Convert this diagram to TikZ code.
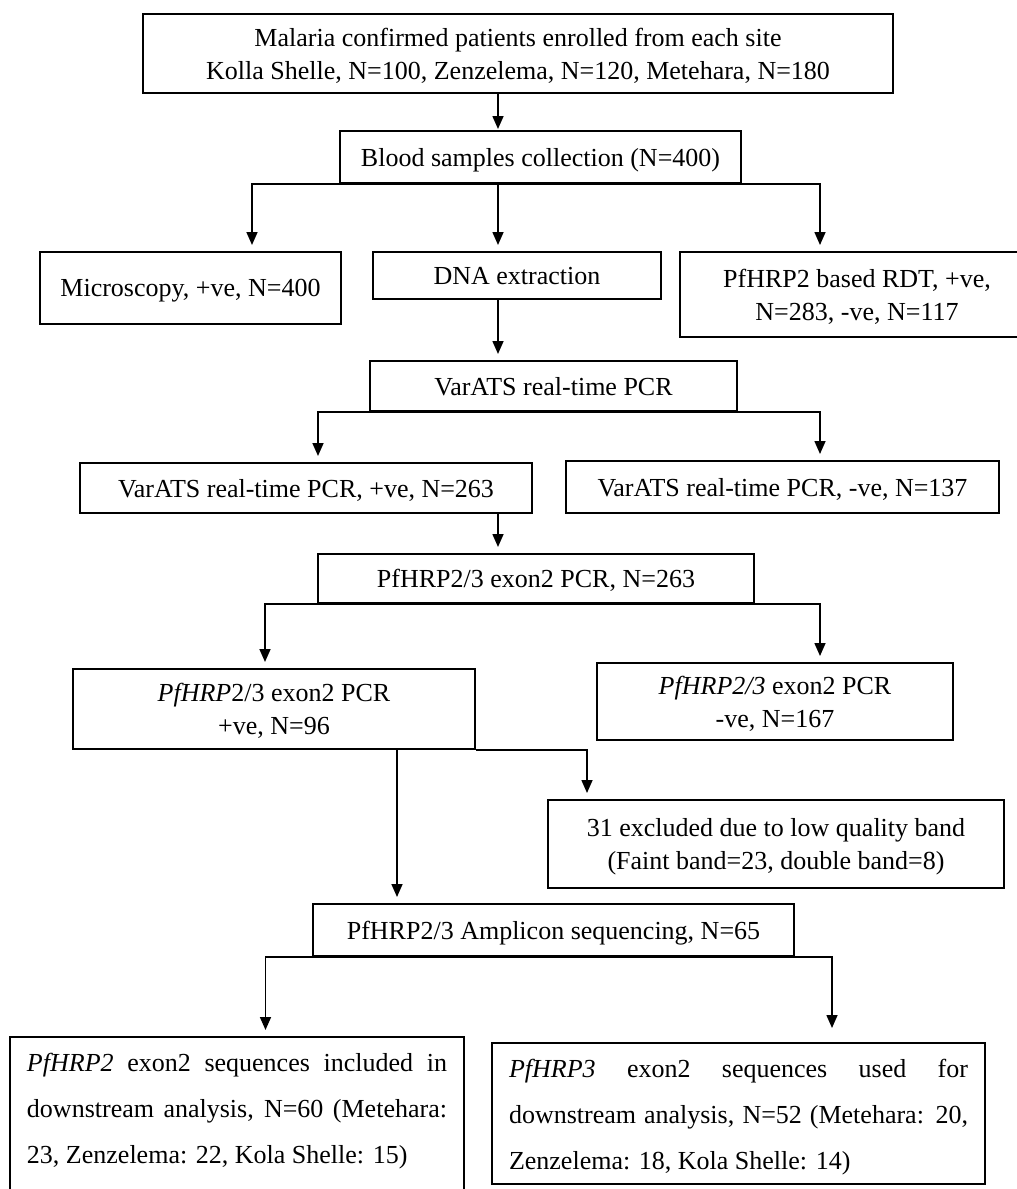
\documentclass[tikz,border=0pt]{standalone}
\usepackage{fontspec}
\setmainfont{Liberation Serif}
\usetikzlibrary{arrows.meta}
\begin{document}
\begin{tikzpicture}[x=1pt,y=-1pt,
    box/.style={draw,line width=2pt,inner sep=0pt,align=center,text depth=0pt,font=\fontsize{26}{33}\selectfont},
    longbox/.style={draw,line width=2pt,anchor=north west,align=justify,inner ysep=0pt,inner xsep=17pt,font=\fontsize{26}{46}\selectfont},
    arr/.style={line width=1.6pt,-{Triangle[length=13pt,width=11pt]},shorten >=6pt}]
    \useasboundingbox (0,0) rectangle (1017,1189);
    \coordinate (spine) at (498,0);

    \node[box,minimum width=750pt,minimum height=79pt] (enrol) at (518,53.5) {Malaria confirmed patients enrolled from each site\\Kolla Shelle, N=100, Zenzelema, N=120, Metehara, N=180};
    \node[box,minimum width=401pt,minimum height=52pt] (blood) at (540.5,157) {Blood samples collection (N=400)};
    \node[box,minimum width=301pt,minimum height=72pt] (micro) at (190.5,288) {Microscopy, +ve, N=400};
    \node[box,minimum width=288pt,minimum height=47pt] (dna) at (517,275.5) {DNA extraction};
    \node[box,minimum width=354pt,minimum height=85pt] (rdt) at (857,294.5) {PfHRP2 based RDT, +ve,\\N=283, -ve, N=117};
    \node[box,minimum width=367pt,minimum height=50pt] (var) at (553.5,386) {VarATS real-time PCR};
    \node[box,minimum width=452pt,minimum height=50pt] (varpos) at (306,488) {VarATS real-time PCR, +ve, N=263};
    \node[box,minimum width=433pt,minimum height=52pt] (varneg) at (782.5,487) {VarATS real-time PCR, -ve, N=137};
    \node[box,minimum width=436pt,minimum height=49pt] (exon) at (536,578.5) {PfHRP2/3 exon2 PCR, N=263};
    \node[box,minimum width=402pt,minimum height=80pt] (exonpos) at (274,709) {\textit{PfHRP}2/3 exon2 PCR\\+ve, N=96};
    \node[box,minimum width=356pt,minimum height=77pt] (exonneg) at (775,701.5) {\textit{PfHRP2/3} exon2 PCR\\-ve, N=167};
    \node[box,minimum width=456pt,minimum height=88pt] (excl) at (776,844) {31 excluded due to low quality band\\(Faint band=23, double band=8)};
    \node[box,minimum width=481pt,minimum height=52pt] (ampl) at (553.5,930) {PfHRP2/3 Amplicon sequencing, N=65};
    \node[longbox,text width=420pt,minimum height=170pt,text depth=118.5pt] (seq2) at (9,1036) {\textit{PfHRP2} exon2 sequences included in\linebreak downstream analysis, N=60 (Metehara:\linebreak 23, Zenzelema: 22, Kola Shelle: 15)};
    \node[longbox,text width=459pt,minimum height=141pt,text depth=89.5pt] (seq3) at (491,1042) {\textit{PfHRP3} exon2 sequences used for\linebreak downstream analysis, N=52 (Metehara: 20,\linebreak Zenzelema: 18, Kola Shelle: 14)};

    % flow
    \draw[arr,shorten >=1pt] (enrol.south -| spine) -- (blood.north -| spine);
    \draw[arr] (blood.south) -| ([xshift=61.5pt]micro.north);
    \draw[arr] (blood.south -| spine) -- (dna.north -| spine);
    \draw[arr] (blood.south) -| ([xshift=-37pt]rdt.north);
    \draw[arr] (dna.south -| spine) -- (var.north -| spine);
    \draw[arr] (var.south) -| ([xshift=12pt]varpos.north);
    \draw[arr] (var.south) -| ([xshift=37.5pt]varneg.north);
    \draw[arr] (varpos.south -| spine) -- (exon.north -| spine);
    \draw[arr] (exon.south) -| ([xshift=-9pt]exonpos.north);
    \draw[arr] (exon.south) -| ([xshift=45pt]exonneg.north);
    \coordinate (drop) at ([xshift=123pt]exonpos.south);
    \draw[arr] (drop) -- (drop |- ampl.north);
    \draw[arr] (exonpos.south east) -| ([xshift=-189pt]excl.north);
    \draw[arr] (ampl.south) -| ([xshift=28.5pt]seq2.north);
    \draw[arr,shorten >=14pt] (ampl.south) -| ([xshift=93.5pt]seq3.north);
\end{tikzpicture}
\end{document}
